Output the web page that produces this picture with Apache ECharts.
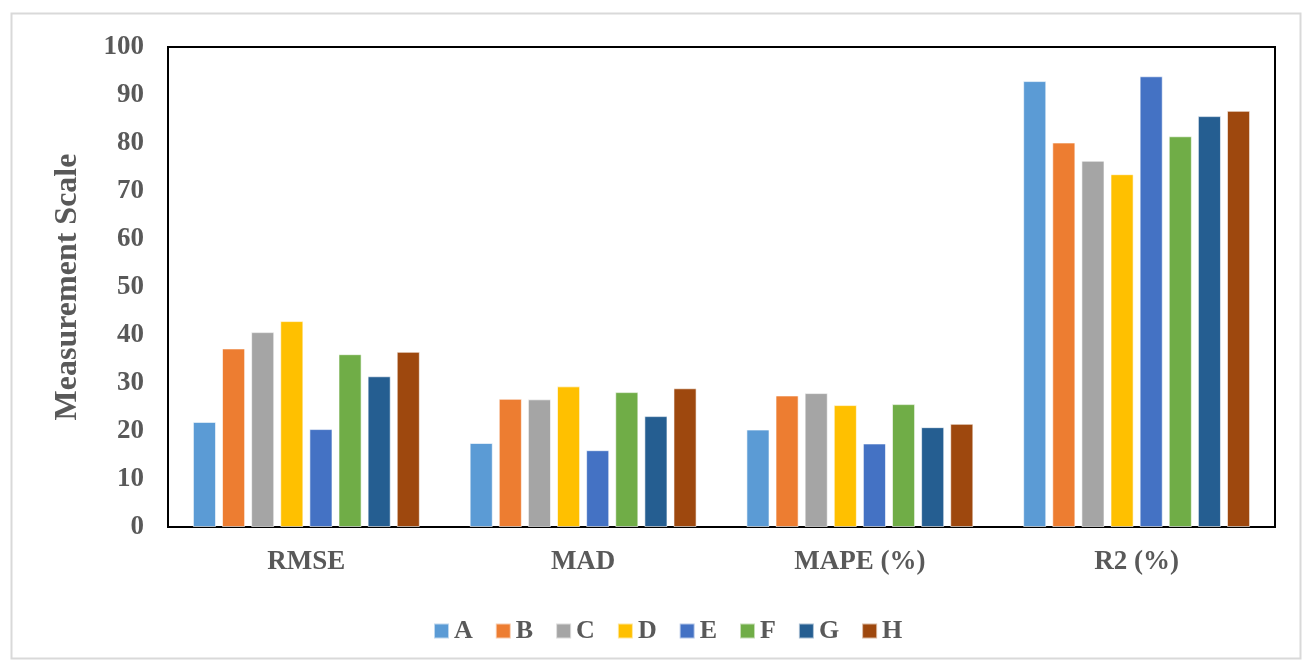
<!DOCTYPE html>
<html>
<head>
<meta charset="utf-8">
<script src="https://cdn.jsdelivr.net/npm/echarts@6/dist/echarts.min.js"></script>
<style>
html,body{margin:0;padding:0;background:#fff;}
#c{width:1309px;height:666px;}
</style>
</head>
<body>
<div id="c"></div>
<script>
const categories = ['RMSE', 'MAD', 'MAPE (%)', 'R2 (%)'];
const seriesNames = ['A', 'B', 'C', 'D', 'E', 'F', 'G', 'H'];
const A = [21.9, 17.5, 20.3, 92.9];
const B = [37.2, 26.7, 27.4, 80.1];
const C = [40.6, 26.6, 27.9, 76.3];
const D = [42.9, 29.3, 25.4, 73.5];
const E = [20.4, 16.0, 17.4, 93.9];
const F = [36.0, 28.1, 25.6, 81.4];
const G = [31.4, 23.1, 20.8, 85.6];
const H = [36.5, 28.9, 21.5, 86.7];
const colors = ['#5B9BD5', '#ED7D31', '#A5A5A5', '#FFC000', '#4472C4', '#70AD47', '#255E91', '#9E480E'];
const allData = [A, B, C, D, E, F, G, H];

const font = 'Liberation Serif, Times New Roman, serif';
const chart = echarts.init(document.getElementById('c'), null, {renderer: 'canvas'});
chart.setOption({
  animation: false,
  color: colors,
  graphic: [{
    type: 'rect', left: 9, top: 11, z: -10,
    shape: {width: 1289, height: 645},
    style: {fill: 'none', stroke: '#d9d9d9', lineWidth: 2}
  }],
  grid: {left: 168, right: 34, top: 47, bottom: 139, show: true, borderColor: '#000', borderWidth: 2, backgroundColor: 'transparent'},
  legend: {
    top: 613, left: 428,
    itemWidth: 15, itemHeight: 15, itemGap: 22,
    icon: 'rect',
    textStyle: {fontFamily: font, fontWeight: 'bold', fontSize: 26, color: '#595959'},
    data: seriesNames
  },
  xAxis: {
    type: 'category', data: categories,
    axisLine: {show: false}, axisTick: {show: false},
    axisLabel: {fontFamily: font, fontWeight: 'bold', fontSize: 27, color: '#595959', margin: 22}
  },
  yAxis: {
    type: 'value', min: 0, max: 100, interval: 10,
    name: 'Measurement Scale', nameLocation: 'middle', nameGap: 84,
    nameTextStyle: {fontFamily: font, fontWeight: 'bold', fontSize: 32, color: '#595959'},
    axisLine: {show: false}, axisTick: {show: false}, splitLine: {show: false},
    axisLabel: {fontFamily: font, fontWeight: 'bold', fontSize: 27, color: '#595959', margin: 24}
  },
  series: seriesNames.map((n, i) => ({
    name: n, type: 'bar', data: allData[i],
    barGap: '26%', barCategoryGap: '18%',
    itemStyle: {borderColor: 'rgba(255,255,255,0.6)', borderWidth: 1}
  }))
});
</script>
</body>
</html>
